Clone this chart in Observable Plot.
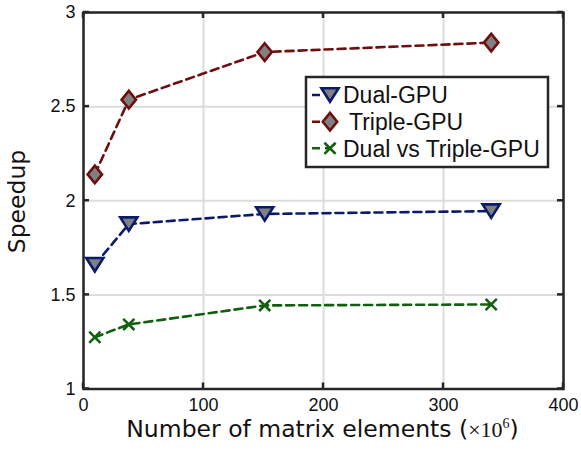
<!DOCTYPE html>
<html>
<head>
<meta charset="utf-8">
<script src="https://cdn.jsdelivr.net/npm/d3@7"></script>
<script src="https://cdn.jsdelivr.net/npm/@observablehq/plot@0.6"></script>
<style>
  html, body { margin: 0; padding: 0; background: #fff; }
</style>
</head>
<body>
<div id="chart"></div>
<script>
// Data (matrix elements in millions)
const elements = [9.437, 37.749, 150.995, 339.739];
const dualGPU = [1.66, 1.876, 1.93, 1.945];
const tripleGPU = [2.14, 2.537, 2.79, 2.84];
const dualVsTriple = [1.275, 1.343, 1.444, 1.449];
const seriesNames = ["Dual-GPU", "Triple-GPU", "Dual vs Triple-GPU"];
const xTicks = [0, 100, 200, 300, 400];
const yTicks = [1, 1.5, 2, 2.5, 3];

const colors = {"Dual-GPU": "#0b1a6b", "Triple-GPU": "#6e0e0e", "Dual vs Triple-GPU": "#11600f"};

const rows = [];
[dualGPU, tripleGPU, dualVsTriple].forEach((vals, i) => {
  vals.forEach((v, j) => rows.push({series: seriesNames[i], x: elements[j], y: v}));
});

// custom marker shapes (r = sqrt(size/pi))
const triDown = {draw(ctx, size) {
  const r = Math.sqrt(size / Math.PI);
  const w = r * 0.95, h = r * 0.75;
  ctx.moveTo(-w, -h); ctx.lineTo(w, -h); ctx.lineTo(0, h); ctx.closePath();
}};
const diamond = {draw(ctx, size) {
  const r = Math.sqrt(size / Math.PI);
  const w = r * 0.8, h = r * 0.98;
  ctx.moveTo(0, -h); ctx.lineTo(w, 0); ctx.lineTo(0, h); ctx.lineTo(-w, 0); ctx.closePath();
}};
const cross = {draw(ctx, size) {
  const r = Math.sqrt(size / Math.PI);
  const s = r * 0.62;
  ctx.moveTo(-s, -s); ctx.lineTo(s, s); ctx.moveTo(s, -s); ctx.lineTo(-s, s);
}};
const symbols = {"Dual-GPU": triDown, "Triple-GPU": diamond, "Dual vs Triple-GPU": cross};

const W = 581, H = 454;
const mL = 83, mR = 18, mT = 12, mB = 65.5;

const marks = [
  Plot.gridX(xTicks, {stroke: "#dcdcdc", strokeOpacity: 1, strokeWidth: 2}),
  Plot.gridY(yTicks, {stroke: "#dcdcdc", strokeOpacity: 1, strokeWidth: 2}),
  Plot.axisX(xTicks, {anchor: "bottom", tickSize: 0, tickPadding: 9, label: null, fontSize: 18, fill: "#111"}),
  Plot.axisY(yTicks, {anchor: "left", tickSize: 0, tickPadding: 8, label: null, fontSize: 18, fill: "#111", tickFormat: d => String(d)}),
];
seriesNames.forEach(name => {
  const d = rows.filter(r => r.series === name);
  marks.push(Plot.line(d, {x: "x", y: "y", stroke: colors[name], strokeWidth: 2.6, strokeDasharray: "8,5"}));
});
seriesNames.forEach(name => {
  const d = rows.filter(r => r.series === name);
  marks.push(Plot.dot(d, {x: "x", y: "y", r: 9, symbol: () => symbols[name],
    fill: name === "Dual vs Triple-GPU" ? "none" : "#808080",
    stroke: colors[name], strokeWidth: 2.6}));
});
marks.push(Plot.frame({stroke: "#262626", strokeWidth: 2.5}));

const svg = Plot.plot({
  width: W, height: H,
  marginLeft: mL, marginRight: mR, marginTop: mT, marginBottom: mB,
  style: {fontFamily: "'Liberation Sans', Arial, Helvetica, sans-serif", fontSize: "18px", background: "#fff", overflow: "visible"},
  x: {domain: [0, 400], axis: null},
  y: {domain: [1, 3], axis: null},
  symbol: {type: "identity"},
  marks
});
document.getElementById("chart").appendChild(svg);

const s = d3.select(svg);
const sx = svg.scale("x"), sy = svg.scale("y");
const x0 = mL, x1 = W - mR, y0 = H - mB, y1 = mT;
// inward ticks on all four sides (MATLAB box style)
const tk = s.append("g").attr("stroke", "#262626").attr("stroke-width", 2.5);
xTicks.forEach(t => {
  const px = sx.apply(t);
  tk.append("line").attr("x1", px).attr("x2", px).attr("y1", y0).attr("y2", y0 - 6);
  tk.append("line").attr("x1", px).attr("x2", px).attr("y1", y1).attr("y2", y1 + 6);
});
yTicks.forEach(t => {
  const py = sy.apply(t);
  tk.append("line").attr("x1", x0).attr("x2", x0 + 6).attr("y1", py).attr("y2", py);
  tk.append("line").attr("x1", x1).attr("x2", x1 - 6).attr("y1", py).attr("y2", py);
});

// axis labels
s.append("text")
  .attr("transform", "translate(25,201.5) rotate(-90)")
  .attr("text-anchor", "middle")
  .attr("font-family", "'DejaVu Sans', sans-serif")
  .attr("font-size", 23.5).attr("fill", "#111")
  .text("Speedup");
const xl = s.append("text")
  .attr("x", 322.5).attr("y", 437)
  .attr("text-anchor", "middle")
  .attr("font-family", "'DejaVu Sans', sans-serif")
  .attr("font-size", 23.5).attr("fill", "#111");
xl.append("tspan").text("Number of matrix elements (");
xl.append("tspan").attr("font-family", "'Liberation Serif', 'DejaVu Serif', serif").attr("font-size", 22).text("×10");
xl.append("tspan").attr("font-family", "'Liberation Serif', 'DejaVu Serif', serif").attr("font-size", 14).attr("dy", -9).text("6");
xl.append("tspan").attr("dy", 9).text(")");

// legend
const lg = s.append("g");
lg.append("rect").attr("x", 306).attr("y", 77).attr("width", 242).attr("height", 90)
  .attr("fill", "#fff").attr("stroke", "#262626").attr("stroke-width", 2.5);
const rowY = [95, 121.7, 148.3];
const textX = [343, 349, 343];
seriesNames.forEach((name, i) => {
  const cy = rowY[i];
  lg.append("line").attr("x1", 312).attr("x2", 330).attr("y1", cy).attr("y2", cy)
    .attr("stroke", colors[name]).attr("stroke-width", 2.6).attr("stroke-dasharray", "8,5");
  lg.append("path")
    .attr("transform", `translate(330,${cy})`)
    .attr("d", d3.symbol(symbols[name], Math.PI * 81)())
    .attr("fill", name === "Dual vs Triple-GPU" ? "none" : "#808080")
    .attr("stroke", colors[name]).attr("stroke-width", 2.6);
  lg.append("text").attr("x", textX[i]).attr("y", cy + 8.3)
    .attr("text-anchor", "start")
    .attr("font-family", "'Liberation Sans', Arial, sans-serif")
    .attr("font-size", 23).attr("fill", "#111").text(name);
});
</script>
</body>
</html>
